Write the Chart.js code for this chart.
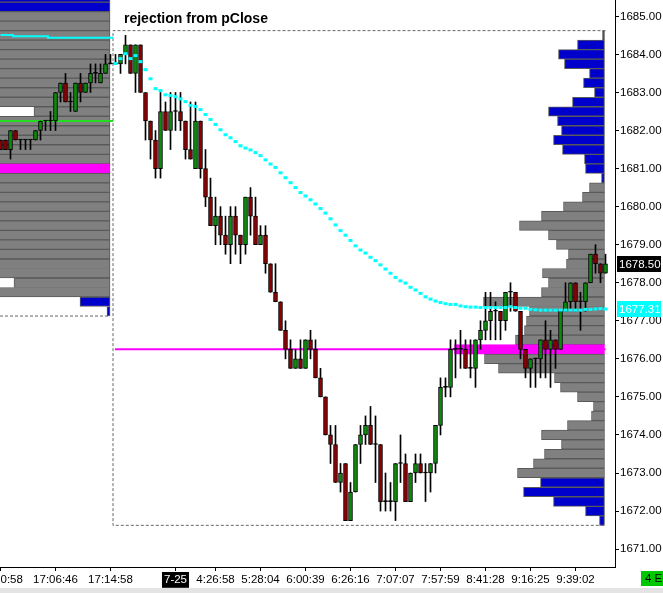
<!DOCTYPE html>
<html>
<head>
<meta charset="utf-8">
<script src="https://cdn.jsdelivr.net/npm/chart.js@4.4.1/dist/chart.umd.min.js"></script>
<style>
  html, body { margin: 0; padding: 0; background: #fff; }
  canvas { display: block; }
</style>
</head>
<body>
<canvas id="chart" width="663" height="593"></canvas>
<script>
const TICK = 0.25;
const title = 'rejection from pClose';

// one candle per bar index; bars 0..22 = prior session, 23.. = current session
const sessionStart = 23;
const opens = [
  1681.75,1681.75,1681.5,1682,1681.75,1681.75,1681.75,1681.75,1682,1682.25,
  1682.25,1682.25,1683,1683.25,1682.75,1682.5,1683.25,1683,1683.25,1683.5,
  1683.25,1683.5,1683.75,1683.75,1683.75,1684,1684.25,1683.5,1684.25,1683,
  1682.25,1681.75,1681,1682.5,1682,1682.5,1682.5,1682.25,1681.5,1681,
  1682.25,1681,1680.25,1679.5,1679.75,1679.25,1679,1679.75,1679.25,1679,
  1680.25,1679.75,1679,1679.25,1678.5,1677.75,1677.5,1676.75,1676.25,1675.75,
  1676,1675.75,1676.5,1676.25,1675.5,1675,1674,1673.75,1672.75,1673.25,
  1671.75,1672.5,1673.75,1674,1674.25,1673.75,1673.75,1672.25,1672.25,1672.25,
  1673.25,1673.25,1672.25,1673,1673.25,1673,1673,1673.25,1674.25,1675.25,
  1675.25,1676.25,1676.25,1676.25,1675.75,1675.75,1676.5,1676.75,1677,1677.25,
  1677.25,1677,1677.75,1677.75,1677.25,1676.25,1675.75,1676,1676,1676.5,
  1676.25,1676.5,1676.25,1677.25,1677.5,1678,1677.5,1677.5,1678,1678.75,
  1678.5,1678.25
];
const highs = [
  1681.75,1681.75,1682,1682,1681.75,1681.75,1681.75,1682,1682.25,1682.25,
  1682.5,1683,1683.25,1683.5,1683,1683.25,1683.5,1683.25,1683.75,1683.75,
  1683.75,1684,1684,1684,1684,1684.5,1684.25,1684.25,1684.25,1683,
  1682.25,1682,1683,1682.75,1683,1683,1683,1682.25,1682.75,1682.75,
  1682.25,1681.5,1680.75,1680.25,1680,1679.75,1680,1680,1679.25,1680.25,
  1680.5,1680.25,1679.5,1679.5,1678.5,1678.5,1677.5,1677,1676.5,1676.25,
  1676.5,1676.5,1676.75,1676.5,1675.75,1675,1674.25,1674.25,1673.25,1673.25,
  1672.75,1673.75,1674.25,1674.5,1674.75,1674.5,1673.75,1673,1672.75,1673.25,
  1674,1673.5,1673,1673.5,1673.5,1673.25,1673.25,1674.25,1675.5,1675.5,
  1676.5,1676.5,1676.75,1676.5,1676.5,1676.5,1677,1677.75,1677.75,1677.5,
  1677.25,1677.75,1678,1677.75,1677.25,1676.25,1676,1676,1676.5,1677,
  1676.75,1676.5,1677.25,1678,1678,1678,1677.75,1678,1678.75,1679,
  1678.5,1678.75
];
const lows = [
  1681.5,1681.5,1681.25,1681.75,1681.5,1681.5,1681.5,1681.75,1681.75,1682,
  1682,1682,1682.75,1682.75,1682.5,1682.5,1682.75,1683,1683,1683.25,
  1683.25,1683.5,1683.75,1683.75,1683.5,1683.75,1683.5,1683,1683,1681.75,
  1681.25,1680.75,1680.75,1682,1681.5,1682,1682,1681.25,1681.25,1681,
  1680.75,1680,1679.5,1679,1679,1678.75,1678.5,1678.75,1678.5,1678.75,
  1679.25,1679,1679,1678.25,1677.75,1677.5,1676.75,1676,1675.75,1675.75,
  1675.75,1675.75,1676,1675.5,1675,1674,1673.25,1672.75,1672.5,1671.75,
  1671.75,1672.5,1673.25,1673.75,1673.75,1672.75,1672,1672,1672,1671.75,
  1672.75,1672.25,1672.25,1672.75,1673,1672.25,1672.5,1673,1674,1675,
  1675,1675.5,1675.75,1675.75,1675.5,1675.25,1676.25,1676.5,1676.5,1676.5,
  1676.5,1676.75,1677.25,1677.25,1676,1675.5,1675.25,1675.25,1675.5,1675.5,
  1675.25,1675.75,1676.25,1677.25,1677.25,1677.25,1676.75,1677.25,1678,1678.25,
  1678,1678.25
];
const closes = [
  1681.5,1681.5,1682,1681.75,1681.75,1681.75,1681.75,1682,1682.25,1682.25,
  1682.25,1683,1683.25,1682.75,1682.75,1683.25,1683,1683.25,1683.5,1683.5,
  1683.5,1683.75,1683.75,1683.75,1684,1684.25,1683.5,1684.25,1683,1682.25,
  1681.75,1681,1682.5,1682,1682.5,1682.5,1682.25,1681.5,1681.25,1682.25,
  1681,1680.25,1679.5,1679.75,1679.25,1679,1679.75,1679.25,1679,1680.25,
  1679.75,1679,1679.25,1678.5,1677.75,1677.5,1676.75,1676.25,1675.75,1676,
  1675.75,1676.5,1676.25,1675.5,1675,1674,1673.75,1672.75,1673,1671.75,
  1672.5,1673.75,1674,1674.25,1673.75,1673.75,1672.25,1672.25,1672.25,1673.25,
  1673.25,1672.25,1673,1673.25,1673,1673,1673.25,1674.25,1675.25,1675.25,
  1676.25,1676.25,1676.25,1675.75,1675.75,1676.5,1676.75,1677,1677.25,1677.25,
  1677,1677.75,1677.75,1677.25,1676.25,1675.75,1676,1676,1676.5,1676.25,
  1676.5,1676.25,1677.25,1677.5,1678,1677.5,1677.5,1678,1678.75,1678.5,
  1678.25,1678.5
];

// prior-session VWAP (bars 0..22) and current-session VWAP (bars 23..)
const prevVwap = [
  1684.51,1684.51,1684.51,1684.48,1684.48,1684.48,1684.48,1684.48,1684.48,1684.48,
  1684.44,1684.44,1684.44,1684.44,1684.44,1684.44,1684.44,1684.44,1684.44,1684.44,
  1684.44,1684.44,1684.44
];
const vwap = [
  1683.76,1683.89,1684.02,1683.89,1683.97,1683.81,1683.60,1683.36,1683.10,1683.05,
  1682.94,1682.92,1682.89,1682.83,1682.76,1682.66,1682.63,1682.55,1682.42,1682.29,
  1682.16,1682.02,1681.89,1681.81,1681.71,1681.60,1681.54,1681.49,1681.42,1681.34,
  1681.23,1681.12,1681.03,1680.89,1680.76,1680.63,1680.50,1680.37,1680.28,1680.18,
  1680.07,1679.95,1679.83,1679.68,1679.52,1679.37,1679.25,1679.11,1678.97,1678.86,
  1678.78,1678.67,1678.58,1678.47,1678.36,1678.25,1678.14,1678.05,1677.99,1677.88,
  1677.81,1677.72,1677.63,1677.57,1677.52,1677.48,1677.45,1677.43,1677.43,1677.39,
  1677.37,1677.36,1677.36,1677.35,1677.35,1677.35,1677.35,1677.35,1677.35,1677.37,
  1677.35,1677.33,1677.33,1677.30,1677.29,1677.28,1677.28,1677.28,1677.28,1677.28,
  1677.28,1677.28,1677.28,1677.28,1677.30,1677.30,1677.31,1677.32,1677.31
];

const pClose = 1676.25;
const priorLevel = 1682.25;

// current-session volume profile
const rightPrices = [
  1684.5,1684.25,1684,1683.75,1683.5,1683.25,1683,1682.75,1682.5,1682.25,
  1682,1681.75,1681.5,1681.25,1681,1680.75,1680.5,1680.25,1680,1679.75,
  1679.5,1679.25,1679,1678.75,1678.5,1678.25,1678,1677.75,1677.5,1677.25,
  1677,1676.75,1676.5,1676.25,1676,1675.75,1675.5,1675.25,1675,1674.75,
  1674.5,1674.25,1674,1673.75,1673.5,1673.25,1673,1672.75,1672.5,1672.25,
  1672,1671.75
];
const rightVol = [
  2,27,46,40,15,21,10,32,56,47,
  43,51,42,20,19,3,15,22,41,63,
  85,56,48,36,38,62,56,63,121,75,
  78,80,89,150,120,106,50,44,27,11,
  13,37,63,43,60,71,87,64,81,51,
  19,5
];
const rightPoc = 1676.25, rightVah = 1680.5, rightVal = 1673.0;

// prior-session volume profile (runs off the left edge)
const leftPrices = [
  1685.5,1685.25,1685,1684.75,1684.5,1684.25,1684,1683.75,1683.5,1683.25,
  1683,1682.75,1682.5,1682.25,1682,1681.75,1681.5,1681.25,1681,1680.75,
  1680.5,1680.25,1680,1679.75,1679.5,1679.25,1679,1678.75,1678.5,1678.25,
  1678,1677.75,1677.5,1677.25
];
const leftVol = [
  150,140,160,175,190,210,230,220,205,240,
  250,185,76,200,215,235,260,270,300,280,
  245,225,190,170,160,175,150,140,130,125,
  96,118,30,3
];
const leftPoc = 1681.0, leftVah = 1685.0, leftVal = 1677.75;

const xTickBars = [0, 11, 22, 35, 43, 52, 61, 70, 79, 88, 97, 106, 115];
const xTickLabels = ['17:00:58','17:06:46','17:14:58','7-25','4:26:58','5:28:04','6:00:39',
  '6:26:16','7:07:07','7:57:59','8:41:28','9:16:25','9:39:02'];
const yTicks = [1671,1672,1673,1674,1675,1676,1677,1678,1679,1680,1681,1682,1683,1684,1685];
const viewLow = 1670.53, viewHigh = 1685.43;

const FONT = '"Liberation Sans", Arial, sans-serif';
Chart.defaults.font.family = FONT;
Chart.defaults.font.size = 11.5;

const bars = opens.map((_, i) => i);
const lastBar = bars.length - 1;
const candleColor = i => closes[i] > opens[i] ? '#0b8a0b' : closes[i] < opens[i] ? '#8b0000' : '#000';

const cur = bars.slice(sessionStart);
const sessHigh = Math.max(...cur.map(i => highs[i])) + TICK / 2;
const sessLow = Math.min(...cur.map(i => lows[i])) - TICK / 2;
const prevLow = Math.min(...leftPrices) - TICK / 2;

function rowColor(p, poc, vah, val) {
  if (p === poc) return '#ff00ff';
  return (p > vah || p < val) ? '#0000cc' : '#808080';
}

function profile(prices, vols, poc, vah, val, axis) {
  return {
    type: 'bar', indexAxis: 'y', xAxisID: axis, yAxisID: 'y',
    data: prices.map((p, i) => ({ x: vols[i], y: p })),
    backgroundColor: prices.map(p => rowColor(p, poc, vah, val)),
    borderColor: prices.map(p => p === poc ? '#ff00ff' : '#5a5a5a'),
    borderWidth: 1, borderSkipped: false, grouped: false,
    barPercentage: 1, categoryPercentage: 1, order: 6
  };
}

const flatLine = (pts, color, width, extra) => Object.assign({
  type: 'line', data: pts, borderColor: color, borderWidth: width,
  pointRadius: 0, tension: 0, fill: false
}, extra || {});

const decor = {
  id: 'decor',
  beforeDraw(chart) {
    const ctx = chart.ctx;
    ctx.save();
    ctx.fillStyle = '#fff';
    ctx.fillRect(0, 0, chart.width, chart.height);
    ctx.restore();
  },
  afterDraw(chart) {
    const ctx = chart.ctx;
    const y = chart.scales.y;
    const area = chart.chartArea;
    ctx.save();
    ctx.font = 'bold 14px ' + FONT;
    ctx.fillStyle = '#000';
    ctx.textBaseline = 'alphabetic';
    ctx.fillText(title, 124, 23);

    const tag = (value, bg) => {
      const yc = Math.round(y.getPixelForValue(value));
      ctx.fillStyle = bg;
      ctx.fillRect(area.right + 2, yc - 8, 44, 16);
      ctx.fillStyle = '#fff';
      ctx.font = '11.5px ' + FONT;
      ctx.textBaseline = 'middle';
      ctx.fillText(value.toFixed(2), area.right + 4, yc + 0.5);
    };
    tag(closes[lastBar], '#000');
    tag(vwap[vwap.length - 1], '#00ffff');

    ctx.fillStyle = '#e4e4e4';
    ctx.fillRect(0, 588, chart.width, 5);
    ctx.fillStyle = '#00c800';
    ctx.fillRect(641, 571, 22, 15);
    ctx.fillStyle = '#000';
    ctx.font = '11.5px ' + FONT;
    ctx.textBaseline = 'middle';
    ctx.fillText('4 E', 645, 579);
    ctx.restore();
  }
};

new Chart(document.getElementById('chart'), {
  type: 'bar',
  data: {
    datasets: [
      {
        type: 'line', xAxisID: 'x', yAxisID: 'y', order: 0, showLine: false,
        data: vwap.map((v, i) => ({ x: sessionStart + i, y: v })),
        pointStyle: 'line', pointRadius: 2, pointBorderWidth: 3,
        pointBorderColor: '#00ffff', pointBackgroundColor: '#00ffff'
      },
      {
        type: 'bar', xAxisID: 'x', yAxisID: 'y', order: 1, grouped: false,
        data: bars.map(i => ({ x: i, y: [opens[i], closes[i]] })),
        backgroundColor: bars.map(candleColor),
        borderColor: '#000', borderWidth: 1, borderSkipped: false,
        barThickness: 4, minBarLength: 1
      },
      {
        type: 'bar', xAxisID: 'x', yAxisID: 'y', order: 2, grouped: false,
        data: bars.map(i => ({ x: i, y: [lows[i], highs[i]] })),
        backgroundColor: '#000', borderWidth: 0, barThickness: 1
      },
      flatLine([{ x: sessionStart - 0.1, y: pClose }, { x: lastBar, y: pClose }], '#ff00ff', 2, { order: 3 }),
      flatLine([{ x: -0.1, y: priorLevel }, { x: sessionStart - 0.5, y: priorLevel }], '#22dd22', 2, { order: 3 }),
      flatLine(prevVwap.map((v, i) => ({ x: i, y: v })).concat([{ x: sessionStart - 0.5, y: prevVwap[prevVwap.length - 1] }]),
        '#00ffff', 2, { order: 3, stepped: 'middle' }),
      flatLine([
        { x: lastBar, y: sessHigh }, { x: sessionStart - 0.5, y: sessHigh },
        { x: sessionStart - 0.5, y: sessLow }, { x: lastBar, y: sessLow }
      ], '#666', 1, { order: 4, borderDash: [3, 2] }),
      flatLine([{ x: -0.1, y: prevLow }, { x: sessionStart - 1.1, y: prevLow }], '#666', 1, { order: 4, borderDash: [3, 2] }),
      profile(rightPrices, rightVol, rightPoc, rightVah, rightVal, 'xr'),
      profile(leftPrices, leftVol, leftPoc, leftVah, leftVal, 'xl')
    ]
  },
  options: {
    responsive: false,
    devicePixelRatio: 1,
    animation: false,
    events: [],
    layout: { padding: 0, autoPadding: false },
    plugins: { legend: { display: false }, tooltip: { enabled: false }, title: { display: false } },
    scales: {
      x: {
        type: 'linear', axis: 'x', position: 'bottom', min: -0.1, max: 122.9, bounds: 'data', offset: false,
        grid: { drawOnChartArea: false, drawTicks: true, tickLength: 4, color: '#000', offset: false },
        border: { display: true, color: '#000', width: 1 },
        ticks: {
          autoSkip: false, maxRotation: 0, padding: 2,
          color: ctx => ctx.tick && ctx.tick.label === '7-25' ? '#fff' : '#000',
          showLabelBackdrop: ctx => !!(ctx.tick && ctx.tick.label === '7-25'),
          backdropColor: '#000', backdropPadding: { x: 2, y: 1 },
          callback: (v, i) => xTickLabels[i]
        },
        afterBuildTicks: s => { s.ticks = xTickBars.map(v => ({ value: v })); },
        afterFit: s => { s.height = 26; s.paddingLeft = 0; s.paddingRight = 0; }
      },
      y: {
        type: 'linear', axis: 'y', position: 'right', min: viewLow, max: viewHigh, bounds: 'data', offset: false,
        beginAtZero: false,
        grid: { drawOnChartArea: false, drawTicks: true, tickLength: 4, color: '#000', offset: false },
        border: { display: true, color: '#000', width: 1 },
        ticks: { color: '#000', padding: 1, callback: v => Number(v).toFixed(2) },
        afterBuildTicks: s => { s.ticks = yTicks.map(v => ({ value: v })); },
        afterFit: s => { s.width = 48; s.paddingTop = 0; s.paddingBottom = 0; }
      },
      xr: { type: 'linear', axis: 'x', display: false, reverse: true, min: -10.5, max: 604.5, bounds: 'data', offset: false },
      xl: { type: 'linear', axis: 'x', display: false, reverse: true, min: -505, max: 110, bounds: 'data', offset: false }
    }
  },
  plugins: [decor]
});
</script>
</body>
</html>
